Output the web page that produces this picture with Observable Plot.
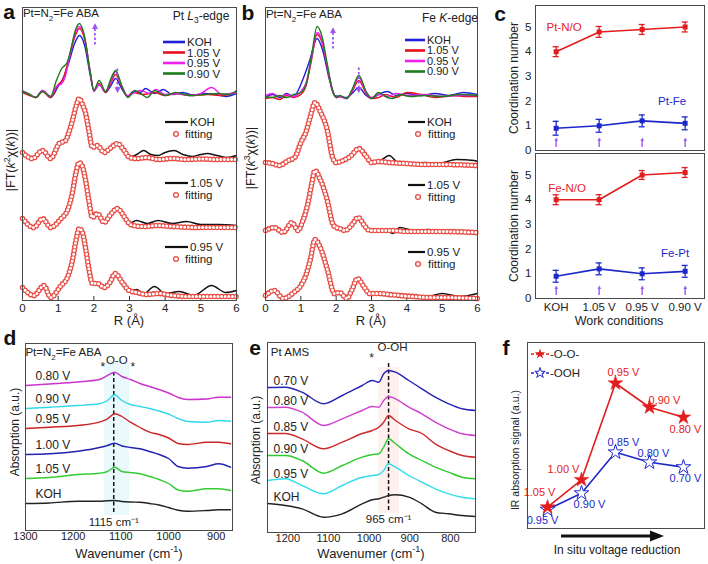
<!DOCTYPE html>
<html>
<head>
<meta charset="utf-8">
<script src="https://cdn.jsdelivr.net/npm/d3@7"></script>
<script src="https://cdn.jsdelivr.net/npm/@observablehq/plot@0.6"></script>
<style>
  html,body{margin:0;padding:0;background:#fff;}
  #root{position:relative;width:708px;height:564px;overflow:hidden;background:#fff;
        font-family:"Liberation Sans",Arial,Helvetica,sans-serif;color:#222;}
  .abs{position:absolute;white-space:nowrap;line-height:1;}
  .abs sub,.abs sup{font-size:70%;line-height:0;}
</style>
</head>
<body>
<div id="root"></div>
<script>
// ====================== DATA ======================
// ---- panels a, b : EXAFS |FT| vs R (Å) ----
const rTicks = [0, 1, 2, 3, 4, 5, 6];
const exafsNames = ["KOH", "1.05 V", "0.95 V", "0.90 V"];
const fitNames = ["KOH", "1.05 V", "0.95 V"];
// Pt L3-edge, overlaid spectra [R, |FT|]
const ptKOH = [[0,9],[0.15,7],[0.37,3],[0.56,10],[0.79,3],[1.0,14],[1.15,23],[1.3,38],[1.45,56],[1.6,65],[1.75,54],[1.9,25],[2.0,10],[2.15,16],[2.33,8],[2.48,15],[2.61,22],[2.78,12],[2.95,4],[3.1,9],[3.3,8],[3.45,12],[3.7,7],[3.95,11],[4.2,6],[4.5,8],[4.8,5],[5.1,7],[5.4,6],[5.7,4],[6.0,7]];
const pt105 = [[0,8],[0.2,5],[0.37,3],[0.56,9],[0.79,3],[1.0,16],[1.12,20],[1.3,42],[1.45,62],[1.6,72],[1.75,60],[1.9,28],[2.0,10],[2.15,17],[2.33,8],[2.48,18],[2.61,26],[2.78,14],[2.95,4],[3.1,8],[3.4,6],[3.7,8],[4.0,5],[4.3,7],[4.7,5],[5.2,6],[5.6,5],[6.0,9]];
const pt095 = [[0,10],[0.2,6],[0.37,3],[0.56,10],[0.79,4],[0.95,14],[1.1,17],[1.2,24],[1.3,40],[1.45,64],[1.6,74],[1.75,62],[1.9,28],[2.0,9],[2.15,16],[2.33,9],[2.48,20],[2.61,29],[2.78,15],[2.95,5],[3.1,7],[3.3,10],[3.55,7],[3.75,11],[4.0,6],[4.3,7],[4.7,5],[5.0,7],[5.3,13],[5.6,6],[6.0,8]];
const pt090 = [[0,9],[0.2,6],[0.37,3],[0.56,9],[0.79,4],[0.95,20],[1.1,32],[1.25,38],[1.35,50],[1.48,70],[1.6,77],[1.72,67],[1.9,28],[2.0,10],[2.15,20],[2.33,9],[2.48,22],[2.61,30],[2.78,15],[2.95,3],[3.15,10],[3.35,6],[3.5,3],[3.7,10],[4.0,5],[4.3,8],[4.7,5],[5.1,6],[5.5,7],[5.8,6],[6.0,10]];
// Pt L3-edge, experiment + fitting
const ptExpKOH = [[0,8],[0.28,2],[0.56,10],[0.79,2],[1.03,17],[1.21,20],[1.3,28],[1.4,40],[1.5,54],[1.59,62],[1.68,56],[1.77,47],[1.86,30],[1.96,13],[2.1,15],[2.29,8],[2.45,12],[2.66,17],[2.85,10],[2.99,3],[3.2,6],[3.4,10],[3.6,6],[3.8,5],[4.0,8],[4.25,10],[4.5,6],[4.76,4],[5.0,6],[5.18,7],[5.45,5],[5.74,3],[6.0,5]];
const ptFitKOH = [[0,8],[0.28,2],[0.56,10],[0.79,2],[1.03,17],[1.21,20],[1.3,28],[1.4,40],[1.5,54],[1.59,62],[1.68,56],[1.77,47],[1.86,30],[1.96,13],[2.1,15],[2.29,8],[2.45,12],[2.66,17],[2.85,10],[3.0,3],[3.2,2],[3.5,3],[3.8,1],[4.2,2],[4.6,1],[5.0,1.5],[5.5,1],[6.0,1]];
const ptExp105 = [[0,10],[0.32,1],[0.56,10],[0.79,1],[1.08,10],[1.26,18],[1.4,36],[1.5,56],[1.59,66],[1.68,62],[1.77,48],[1.86,28],[1.96,11],[2.1,15],[2.29,6],[2.45,13],[2.66,20],[2.85,12],[2.99,5],[3.2,8],[3.5,5],[3.8,8],[4.2,5],[4.6,7],[5.0,4],[5.5,4],[6.0,3]];
const ptFit105 = [[0,10],[0.32,1],[0.56,10],[0.79,1],[1.08,10],[1.26,18],[1.4,36],[1.5,56],[1.59,66],[1.68,62],[1.77,48],[1.86,28],[1.96,11],[2.1,15],[2.29,6],[2.45,13],[2.66,20],[2.85,12],[2.99,5],[3.1,3],[3.4,2],[3.8,3],[4.2,2],[5.0,1],[6.0,1]];
const ptExp095 = [[0,11],[0.32,3],[0.6,13],[0.79,1],[1.08,13],[1.26,21],[1.4,38],[1.5,58],[1.59,70],[1.68,66],[1.77,50],[1.86,30],[1.96,15],[2.1,15],[2.29,11],[2.45,16],[2.6,25],[2.8,16],[2.99,8],[3.2,9],[3.4,5],[3.7,12],[4.0,5],[4.4,7],[4.8,3],[5.3,13],[5.7,6],[6.0,8]];
const ptFit095 = [[0,11],[0.32,3],[0.6,13],[0.79,1],[1.08,13],[1.26,21],[1.4,38],[1.5,58],[1.59,70],[1.68,66],[1.77,50],[1.86,30],[1.96,15],[2.1,15],[2.29,11],[2.45,16],[2.6,25],[2.8,16],[2.99,8],[3.2,6],[3.5,4],[3.8,5],[4.2,3],[4.6,2],[5.0,2],[6.0,2]];
// Fe K-edge, overlaid spectra
const feKOH = [[0,3],[0.2,6],[0.4,3],[0.6,7],[0.8,4],[0.95,12],[1.1,25],[1.25,40],[1.46,62],[1.62,50],[1.8,22],[1.95,5],[2.1,4],[2.3,3],[2.45,7],[2.64,13],[2.85,5],[3.0,2],[3.2,6],[3.45,9],[3.7,5],[4.0,7],[4.4,5],[4.8,7],[5.2,5],[5.6,8],[6.0,6]];
const fe105 = [[0,2],[0.2,3],[0.4,1],[0.6,5],[0.8,3],[1.0,6],[1.15,15],[1.3,40],[1.46,66],[1.6,58],[1.75,33],[1.9,10],[2.0,3],[2.1,4],[2.3,2],[2.45,9],[2.64,20],[2.85,7],[3.0,2],[3.2,3],[3.4,6],[3.7,3],[4.0,8],[4.4,6],[4.8,3],[5.3,5],[5.7,4],[6.0,4]];
const fe095 = [[0,5],[0.2,7],[0.4,4],[0.6,6],[0.8,4],[1.0,9],[1.15,18],[1.3,42],[1.46,68],[1.6,60],[1.75,34],[1.9,10],[2.0,3],[2.1,4],[2.3,2],[2.45,10],[2.64,23],[2.85,8],[3.0,3],[3.2,6],[3.45,4],[3.7,7],[4.0,5],[4.5,6],[5.0,4],[5.5,5],[6.0,5]];
const fe090 = [[0,4],[0.2,3],[0.4,5],[0.6,3],[0.8,6],[1.0,8],[1.15,16],[1.3,44],[1.46,74],[1.6,64],[1.75,36],[1.9,10],[2.0,3],[2.1,5],[2.3,2],[2.45,11],[2.64,25],[2.85,9],[3.0,2],[3.2,8],[3.45,3],[3.6,2],[3.8,6],[4.1,4],[4.5,5],[5.0,4],[5.5,6],[6.0,5]];
// Fe K-edge, experiment + fitting
const feExpKOH = [[0,4],[0.2,3],[0.38,1],[0.65,6],[0.83,9],[1.0,24],[1.15,35],[1.27,50],[1.4,64],[1.55,55],[1.75,36],[1.9,9],[2.0,4],[2.2,6],[2.4,10],[2.64,18],[2.85,10],[3.0,4],[3.3,7],[3.5,11],[3.75,4],[4.0,3],[4.5,4],[4.9,3],[5.4,7],[5.9,6],[6.0,5]];
const feFitKOH = [[0,4],[0.2,3],[0.38,1],[0.65,6],[0.83,9],[1.0,24],[1.15,35],[1.27,50],[1.4,64],[1.55,55],[1.75,36],[1.9,9],[2.0,4],[2.2,6],[2.4,10],[2.64,18],[2.85,10],[3.0,4],[3.2,5],[3.5,4],[4.0,3],[4.5,2],[5.0,2],[6.0,1]];
const feExp105 = [[0,3],[0.25,6],[0.5,1],[0.75,11],[0.92,3],[1.05,12],[1.2,30],[1.3,48],[1.4,63],[1.55,54],[1.75,33],[1.9,10],[2.0,6],[2.1,5],[2.25,3],[2.45,9],[2.62,16],[2.8,8],[2.95,3],[3.2,3],[3.4,4],[3.6,0],[3.8,6],[4.2,3],[4.6,4],[5.0,2],[5.5,3],[6.0,2]];
const feFit105 = [[0,3],[0.25,6],[0.5,1],[0.75,11],[0.92,3],[1.05,12],[1.2,30],[1.3,48],[1.4,63],[1.55,54],[1.75,33],[1.9,10],[2.0,6],[2.1,5],[2.25,3],[2.45,9],[2.62,16],[2.8,8],[2.95,3],[3.2,3],[3.6,3],[4.0,2],[5.0,2],[6.0,1]];
const feExp095 = [[0,4],[0.25,9],[0.5,1],[0.8,7],[1.0,14],[1.15,25],[1.27,40],[1.4,60],[1.55,52],[1.75,30],[1.95,6],[2.1,7],[2.3,1],[2.45,10],[2.6,21],[2.8,12],[2.95,6],[3.2,7],[3.5,3],[3.8,5],[4.2,3],[4.6,3],[5.0,6],[5.5,3],[6.0,6]];
const feFit095 = [[0,4],[0.25,9],[0.5,1],[0.8,7],[1.0,14],[1.15,25],[1.27,40],[1.4,60],[1.55,52],[1.75,30],[1.95,6],[2.1,7],[2.3,1],[2.45,10],[2.6,21],[2.8,12],[2.95,6],[3.2,6],[3.5,5],[3.8,4],[4.2,3],[4.6,2],[5.0,2],[6.0,1]];
// vertical stacking offsets (a.u.)
const aTopOffset = 200, aFitOffsets = [140, 72, 2];
const bTopOffset = 200, bFitOffsets = [134, 67, 1];
// purple arrows (R position, from -> to)
const aArrows = [{r: 2.03, from: 256, to: 275}, {r: 2.66, from: 232, to: 211}];
const bArrows = [{r: 1.91, from: 252, to: 271}, {r: 2.64, from: 233, to: 211}];

// ---- panel c : coordination numbers ----
const conditions = ["KOH", "1.05 V", "0.95 V", "0.90 V"];
const cnPtNO = [4.0, 4.8, 4.9, 5.0],  cnPtNOErr = [0.2, 0.22, 0.2, 0.2];
const cnPtFe = [0.9, 1.0, 1.2, 1.1],  cnPtFeErr = [0.28, 0.26, 0.24, 0.26];
const cnFeNO = [4.0, 4.0, 5.0, 5.1],  cnFeNOErr = [0.2, 0.2, 0.18, 0.2];
const cnFePt = [0.9, 1.2, 1.0, 1.1],  cnFePtErr = [0.24, 0.24, 0.24, 0.24];
const cnTicks = [0, 1, 2, 3, 4, 5];

// ---- panel d : IR, Pt=N2=Fe ABA ----
const dWn = [1300, 1250, 1190, 1145, 1128, 1113, 1098, 1080, 1060, 1040, 1020, 1000, 980, 960, 920, 895, 870];
const dNames = ["0.80 V", "0.90 V", "0.95 V", "1.00 V", "1.05 V", "KOH"];
const d080 = [0, 1.5, 3.5, 6, 10, 13.3, 9, 6, 2, -1, -4, -7.5, -12, -14, -13.5, -11.7, -11.7];
const d090 = [0, 1.3, 3, 4.7, 8, 13.7, 8, 4, 2, 0, -2.5, -5.5, -10, -13, -13.7, -12, -12.7];
const d095 = [0, 1.3, 3, 6.3, 9.7, 14.7, 12, 6.3, 1, -3.7, -6, -9.5, -15, -16, -13.7, -13.7, -15.3];
const d100 = [0, 0.7, 3.3, 7, 9, 11.3, 8.5, 7, 5.7, 3, 0, -4, -12, -13.7, -12, -9.3, -12.7];
const d105 = [0, 1, 4, 5.3, 7, 11.3, 7, 6, 4.7, 2, -1, -5, -11.5, -12.7, -10.3, -10.3, -12];
const dKOH = [0, 0.5, 2.3, 2.3, 2.8, 3, 2, 1.5, 1.3, 0, -1.5, -4, -6.7, -7.7, -7, -6.3, -6.3];
const dOffsets = [145, 122, 102, 76, 52, 27];
const dPeak = 1115;
const dTicks = [1300, 1200, 1100, 1000, 900];

// ---- panel e : IR, Pt AMS ----
const eWn = [1250, 1206, 1165, 1112, 1066, 1017, 992, 976, 964, 952, 935, 902, 870, 837, 804, 771, 738];
const eNames = ["0.70 V", "0.80 V", "0.85 V", "0.90 V", "0.95 V", "KOH"];
const e070 = [0, 0.3, -4.7, -16.3, -8, 2, 7, 5.3, 13.7, 17, 15.3, 7, -1.3, -9.7, -16.3, -21.3, -23];
const e080 = [0, 0.3, -4.7, -18, -11.3, -3, 1, 0.3, 7, 11, 8.7, 0.3, -6.3, -14.7, -21.3, -26.3, -28];
const e085 = [0, 0, -5.3, -15.3, -8.7, 0, 3, 6.3, 11.3, 18, 13, 4.7, 0, -10.3, -17, -22, -23.7];
const e090 = [0, 0, -5, -17.7, -10, -1.7, 1, 1.7, 8.3, 16.7, 11.7, 1.7, -5, -11.7, -16.7, -21.7, -23.3];
const e095 = [0, 1.7, -5, -13.3, -5, 3.3, 5, 6, 10, 16.7, 13.3, 5, -1.7, -8.3, -13.3, -16.7, -18.3];
const eKOH = [0, -2, -5.3, -13.7, -10.3, -0.3, 3.7, 4.7, 6.3, 8, 8.7, 6.3, -0.3, -8.7, -10.3, -12, -13];
const eOffsets = [145, 125, 99, 77, 52, 29];
const ePeakLabel = 965, ePeakLine = 952;
const eTicks = [1200, 1100, 1000, 900, 800];

// ---- panel f : IR absorption signal ----
const fStep = [1, 2, 3, 4, 5];
const fOO = [1.15, 2.62, 7.81, 6.52, 5.98];
const fOOH = [1.02, 1.90, 4.10, 3.56, 3.30];
const fOOVolt = ["1.05 V", "1.00 V", "0.95 V", "0.90 V", "0.80 V"];
const fOOHVolt = ["0.95 V", "0.90 V", "0.85 V", "0.80 V", "0.70 V"];

// ====================== STYLE ======================
const FONT = '"Liberation Sans", Arial, Helvetica, sans-serif';
const exafsColors = ["#1f1fd6", "#e8101a", "#f01ff0", "#1e7b1e"];
const FIT_RED = "#e94b43";
const PURPLE = "#9d55f2";
const C_RED = "#e21d1d", C_BLUE = "#1c28c8";
const dColors = ["#cc33cc", "#33d8e8", "#cc2424", "#2222b0", "#33cc33", "#222"];
const eColors = ["#2323b5", "#d040d0", "#cc2a2a", "#30c830", "#35dcea", "#222"];
const FRAME = "#4a4a4a";
const root = document.getElementById("root");
const plain = d => String(d);

function mount(svg, left, top) {
  svg.style.position = "absolute";
  svg.style.left = left + "px";
  svg.style.top = top + "px";
  root.appendChild(svg);
}
function baseStyle(size) {
  return {fontFamily: FONT, fontSize: size + "px", background: "transparent", overflow: "visible", color: "#222"};
}
function place(html, x, y, o = {}) {
  const d = document.createElement("div");
  d.className = "abs";
  d.innerHTML = html;
  d.style.fontSize = (o.size || 12) + "px";
  d.style.color = o.color || "#222";
  if (o.weight) d.style.fontWeight = o.weight;
  d.style.left = x + "px";
  d.style.top = y + "px";
  const tx = o.anchor === "start" ? "0" : o.anchor === "end" ? "-100%" : "-50%";
  d.style.transform = `translate(${tx},-50%)` + (o.rotate ? ` rotate(${o.rotate}deg)` : "");
  root.appendChild(d);
}

// ====================== PANELS a, b ======================
function exafsPanel(o) {
  const X = d => d[0];
  const marks = [Plot.ruleX(rTicks, {x: d => d, y1: () => 0, y2: () => 4, stroke: "#333", strokeWidth: 1})];
  o.series.forEach((s, i) => marks.push(Plot.line(s, {x: X, y: d => d[1] + o.topOffset, stroke: exafsColors[i], strokeWidth: 1.4, curve: "monotone-x"})));
  o.groups.forEach((g, i) => {
    const Y = d => d[1] + o.fitOffsets[i];
    marks.push(Plot.line(g.exp, {x: X, y: Y, stroke: "#111", strokeWidth: 1.5, curve: "monotone-x"}));
    marks.push(Plot.line(g.fit, {x: X, y: Y, stroke: FIT_RED, strokeWidth: 5.6, strokeDasharray: "0 3.6", strokeLinecap: "round", curve: "monotone-x"}));
    marks.push(Plot.line(g.fit, {x: X, y: Y, stroke: "#fff", strokeWidth: 3.0, strokeDasharray: "0 3.6", strokeLinecap: "round", curve: "monotone-x"}));
  });
  marks.push(Plot.link(o.arrows, {x1: "r", x2: "r", y1: "from", y2: "to", stroke: PURPLE, strokeWidth: 1.8, strokeDasharray: "2.5 2"}));
  marks.push(Plot.text(o.arrows, {x: "r", y: "to", text: d => d.to > d.from ? "▲" : "▼", fill: PURPLE, fontSize: 10}));
  marks.push(Plot.frame({stroke: FRAME, strokeWidth: 1}));
  return Plot.plot({
    width: o.w, height: 330, marginLeft: o.mL, marginRight: o.mR, marginTop: 7, marginBottom: 30,
    x: {domain: [0, 6], ticks: rTicks, tickFormat: plain, tickSize: 0, tickPadding: 3, label: null},
    y: {domain: [0, 293], axis: null},
    style: baseStyle(11.5), marks
  });
}
mount(exafsPanel({w: 240, mL: 22, mR: 4, series: [ptKOH, pt105, pt095, pt090], topOffset: aTopOffset,
  groups: [{exp: ptExpKOH, fit: ptFitKOH}, {exp: ptExp105, fit: ptFit105}, {exp: ptExp095, fit: ptFit095}],
  fitOffsets: aFitOffsets, arrows: aArrows}), 0, 0);
mount(exafsPanel({w: 237, mL: 22, mR: 3, series: [feKOH, fe105, fe095, fe090], topOffset: bTopOffset,
  groups: [{exp: feExpKOH, fit: feFitKOH}, {exp: feExp105, fit: feFit105}, {exp: feExp095, fit: feFit095}],
  fitOffsets: bFitOffsets, arrows: bArrows}), 243, 0);

// ====================== PANEL c ======================
function coordPanel(o) {
  const idx = conditions.map((_, i) => i);
  const rows = (v, e) => v.map((y, i) => ({i, y, e: e[i]}));
  const marks = [
    Plot.ruleX(idx, {x: i => i, y1: () => 0.12, y2: () => 0.4, stroke: PURPLE, strokeWidth: 1.4}),
    Plot.text(idx, {x: i => i, y: () => 0.46, text: () => "▲", fill: PURPLE, fontSize: 6})
  ];
  for (const [data, color] of [[rows(o.red, o.redErr), C_RED], [rows(o.blue, o.blueErr), C_BLUE]]) {
    marks.push(Plot.ruleX(data, {x: "i", y1: d => d.y - d.e, y2: d => d.y + d.e, stroke: color, strokeWidth: 1.3}));
    marks.push(Plot.ruleY(data, {x1: d => d.i - 0.07, x2: d => d.i + 0.07, y: d => d.y + d.e, stroke: color, strokeWidth: 1.3}));
    marks.push(Plot.ruleY(data, {x1: d => d.i - 0.07, x2: d => d.i + 0.07, y: d => d.y - d.e, stroke: color, strokeWidth: 1.3}));
    marks.push(Plot.line(data, {x: "i", y: "y", stroke: color, strokeWidth: 1.6}));
    marks.push(Plot.dot(data, {x: "i", y: "y", symbol: "square", fill: color, r: 2.8}));
  }
  marks.push(Plot.text([o.redLabel], {x: () => 0, y: () => o.redLabelY, text: d => d, dx: o.redDx, fill: C_RED, fontSize: 11.5}));
  marks.push(Plot.text([o.blueLabel], {x: () => 3, y: () => o.blueLabelY, text: d => d, dx: o.blueDx, fill: C_BLUE, fontSize: 11.5}));
  marks.push(Plot.frame({stroke: FRAME, strokeWidth: 1}));
  return Plot.plot({
    width: 238, height: o.h, marginLeft: 65, marginRight: 4, marginTop: o.mT, marginBottom: o.mB,
    x: o.showX ? {domain: [-0.48, 3.45], ticks: [0, 1, 2, 3], tickFormat: i => conditions[i], tickSize: 0, tickPadding: 4, label: null}
               : {domain: [-0.48, 3.45], axis: null},
    y: {domain: [0, 5.87], ticks: cnTicks, tickFormat: plain, tickSize: 0, tickPadding: 4, label: null},
    style: baseStyle(11.5), marks
  });
}
mount(coordPanel({h: 152, mT: 5, mB: 2, red: cnPtNO, redErr: cnPtNOErr, blue: cnPtFe, blueErr: cnPtFeErr,
  redLabel: "Pt-N/O", redLabelY: 5.0, redDx: 8, blueLabel: "Pt-Fe", blueLabelY: 1.98, blueDx: -13, showX: false}), 470, 0);
mount(coordPanel({h: 180, mT: 3, mB: 32, red: cnFeNO, redErr: cnFeNOErr, blue: cnFePt, blueErr: cnFePtErr,
  redLabel: "Fe-N/O", redLabelY: 4.45, redDx: 11, blueLabel: "Fe-Pt", blueLabelY: 1.82, blueDx: -10, showX: true}), 470, 150);

// ====================== PANELS d, e ======================
function irPanel(o) {
  const marks = [
    Plot.rect([o.line], {x1: d => d + o.band[0], x2: d => d - o.band[1], y1: () => o.bandY[0], y2: () => o.bandY[1], fill: o.bandFill}),
    Plot.ruleX([o.line], {x: d => d, y1: () => o.dashY[0], y2: () => o.dashY[1], stroke: "#111", strokeWidth: 1.5, strokeDasharray: "4 2.5"})
  ];
  o.spectra.forEach((s, k) => {
    const pts = o.wn.map((w, j) => ({w, a: s[j] + o.offsets[k]}));
    marks.push(Plot.line(pts, {x: "w", y: "a", stroke: o.colors[k], strokeWidth: 1.4, curve: "monotone-x"}));
  });
  marks.push(Plot.text(o.names, {frameAnchor: "left", y: (d, i) => o.offsets[i], text: d => d, dx: o.labelDx, dy: o.labelDy,
    textAnchor: "start", fill: "#222", fontSize: 12}));
  marks.push(Plot.text([o.peakLabel], {x: () => o.line, y: () => o.peakLabelY, text: d => `${d} cm⁻¹`, fontSize: 11.5, fill: "#222"}));
  o.notes.forEach(n => marks.push(Plot.text([n.t], {x: () => o.line, y: () => o.dashY[1], text: d => d, dx: n.dx, dy: n.dy, fontSize: n.size, fill: "#222"})));
  marks.push(Plot.frame({stroke: FRAME, strokeWidth: 1}));
  return Plot.plot({
    width: 240, height: 234, marginLeft: o.mL, marginRight: o.mR, marginTop: o.mT, marginBottom: o.mB,
    x: {domain: o.domain, ticks: o.ticks, tickFormat: plain, tickSize: 0, tickPadding: 2, label: null},
    y: {domain: [0, o.yMax], axis: null},
    style: baseStyle(11), marks
  });
}
mount(irPanel({mL: 25, mR: 8, mT: 13, mB: 34, domain: [1300, 866], ticks: dTicks, yMax: 187,
  wn: dWn, spectra: [d080, d090, d095, d100, d105, dKOH], offsets: dOffsets, colors: dColors, names: dNames,
  labelDx: 10, labelDy: -9, line: dPeak, band: [19, 33], bandY: [15, 168], bandFill: "#e9f9fc", dashY: [18, 158],
  peakLabel: dPeak, peakLabelY: 8,
  notes: [{t: "O-O", dx: 3, dy: -12, size: 11.5}, {t: "*", dx: -11, dy: -5, size: 12}, {t: "*", dx: 19, dy: -5, size: 12}]}), 0, 330);
mount(irPanel({mL: 27, mR: 5, mT: 12, mB: 32, domain: [1250, 738], ticks: eTicks, yMax: 190,
  wn: eWn, spectra: [e070, e080, e085, e090, e095, eKOH], offsets: eOffsets, colors: eColors, names: eNames,
  labelDx: 6, labelDy: -6, line: ePeakLine, band: [24, 27], bandY: [19, 165], bandFill: "#fdf0ef", dashY: [22, 170],
  peakLabel: ePeakLabel, peakLabelY: 13,
  notes: [{t: "O-OH", dx: 4, dy: -15, size: 11.5}, {t: "*", dx: -17, dy: -4, size: 12}]}), 240, 330);

// ====================== PANEL f ======================
(function () {
  const oo = fStep.map((s, i) => ({s, v: fOO[i], lab: fOOVolt[i]}));
  const ooh = fStep.map((s, i) => ({s, v: fOOH[i], lab: fOOHVolt[i]}));
  const ooOff = [[-8, -15], [-18, -10], [8, -11], [15, -7], [2, 12]];
  const oohOff = [[-5, 11], [8, 11], [8, -10], [4, -9], [2, 11]];
  const marks = [
    Plot.line(ooh, {x: "s", y: "v", stroke: C_BLUE, strokeWidth: 1.6}),
    Plot.dot(ooh, {x: "s", y: "v", symbol: "star", fill: "white", stroke: C_BLUE, strokeWidth: 1, r: 4.6}),
    Plot.line(oo, {x: "s", y: "v", stroke: C_RED, strokeWidth: 1.6}),
    Plot.dot(oo, {x: "s", y: "v", symbol: "star", fill: C_RED, stroke: C_RED, strokeWidth: 0.5, r: 4.6})
  ];
  oo.forEach((d, i) => marks.push(Plot.text([d], {x: "s", y: "v", text: "lab", dx: ooOff[i][0], dy: ooOff[i][1], fill: C_RED, fontSize: 11})));
  ooh.forEach((d, i) => marks.push(Plot.text([d], {x: "s", y: "v", text: "lab", dx: oohOff[i][0], dy: oohOff[i][1], fill: C_BLUE, fontSize: 11})));
  marks.push(Plot.frame({stroke: FRAME, strokeWidth: 1}));
  mount(Plot.plot({
    width: 238, height: 234, marginLeft: 57, marginRight: 4, marginTop: 12, marginBottom: 36,
    x: {domain: [0.41, 5.62], axis: null}, y: {domain: [0, 10], axis: null},
    style: baseStyle(11), marks
  }), 470, 330);
})();

// ====================== OVERLAY: legends, arrows ======================
const ov = d3.select(root).append("svg").attr("width", 708).attr("height", 564)
  .style("position", "absolute").style("left", "0").style("top", "0").style("overflow", "visible")
  .attr("font-family", FONT).attr("fill", "#222");
function seg(x1, x2, y, color, w, dash) {
  const l = ov.append("line").attr("x1", x1).attr("x2", x2).attr("y1", y).attr("y2", y).attr("stroke", color).attr("stroke-width", w);
  if (dash) l.attr("stroke-dasharray", dash);
}
function txt(x, y, s, size, color) {
  ov.append("text").attr("x", x).attr("y", y).attr("dy", "0.35em").attr("font-size", size).attr("fill", color || "#222").text(s);
}
function exafsLegend(lx1, lx2, tx, ys, fx1, fx2, ftx, cx, ftx2, fys, size) {
  exafsNames.forEach((n, i) => { seg(lx1, lx2, ys[i], exafsColors[i], 2.6); txt(tx, ys[i], n, size); });
  fitNames.forEach((n, i) => {
    seg(fx1, fx2, fys[i], "#111", 2.2); txt(ftx, fys[i], n, 11.5);
    ov.append("circle").attr("cx", cx).attr("cy", fys[i] + 12).attr("r", 2.4).attr("fill", "white").attr("stroke", FIT_RED).attr("stroke-width", 1.3);
    txt(ftx2, fys[i] + 12, "fitting", 11.5);
  });
}
exafsLegend(163, 185, 187, [42, 52.5, 63, 73.5], 165, 188, 190, 176, 185, [122, 183, 247], 11.5);
exafsLegend(405, 425, 427, [40, 50.5, 61, 71.5], 408, 425, 427, 418, 428, [122, 185, 252], 11);
// panel f legend
const star = d3.symbol(d3.symbolStar, 34)();
seg(531, 549, 354, C_RED, 1.5, "3 2");
ov.append("path").attr("d", star).attr("transform", "translate(540,354)").attr("fill", C_RED);
txt(550, 354, "-O-O-", 11.5);
seg(531, 549, 373, C_BLUE, 1.5, "3 2");
ov.append("path").attr("d", star).attr("transform", "translate(540,373)").attr("fill", "white").attr("stroke", C_BLUE).attr("stroke-width", 1);
txt(550, 373, "-OOH", 11.5);
// panel f reduction arrow
seg(561, 652, 536, "#111", 3);
ov.append("path").attr("d", "M650,530.5L664,536L650,541.5Z").attr("fill", "#111");

// ====================== TEXT ======================
[["a", 9, 11], ["b", 248, 12], ["c", 500, 13], ["d", 10, 337], ["e", 255, 347], ["f", 506, 347]]
  .forEach(([t, x, y]) => place(t, x, y, {size: 21, weight: "bold", color: "#111"}));
place("Pt=N<sub>2</sub>=Fe ABA", 61, 14, {size: 11.5});
place("Pt=N<sub>2</sub>=Fe ABA", 304, 15, {size: 11.5});
place("Pt <i>L</i><sub>3</sub>-edge", 201, 16, {size: 12});
place("Fe <i>K</i>-edge", 450, 18, {size: 12});
place("|FT(<i>k</i><sup>2</sup>χ(<i>k</i>))|", 11, 160, {size: 12.5, rotate: -90});
place("|FT(<i>k</i><sup>3</sup>χ(<i>k</i>))|", 251, 158, {size: 12.5, rotate: -90});
place("R (Å)", 129, 320, {size: 13});
place("R (Å)", 371, 320, {size: 13});
place("Coordination number", 514, 78, {size: 12, rotate: -90});
place("Coordination number", 514, 226, {size: 12, rotate: -90});
place("Work conditions", 619, 321, {size: 12.5});
place("Pt=N<sub>2</sub>=Fe ABA", 63.5, 353, {size: 11.5});
place("Pt AMS", 290, 353, {size: 11.5});
place("Absorption (a.u.)", 15, 432, {size: 12, rotate: -90});
place("Absorption (a.u.)", 256, 440, {size: 12, rotate: -90});
place("Wavenumer (cm<sup>-1</sup>)", 129, 553, {size: 13});
place("Wavenumer (cm<sup>-1</sup>)", 371, 553, {size: 13});
place("IR absorption signal (a.u.)", 515, 450, {size: 10.5, rotate: -90});
place("In situ voltage reduction", 617, 550, {size: 12});
</script>
</body>
</html>
